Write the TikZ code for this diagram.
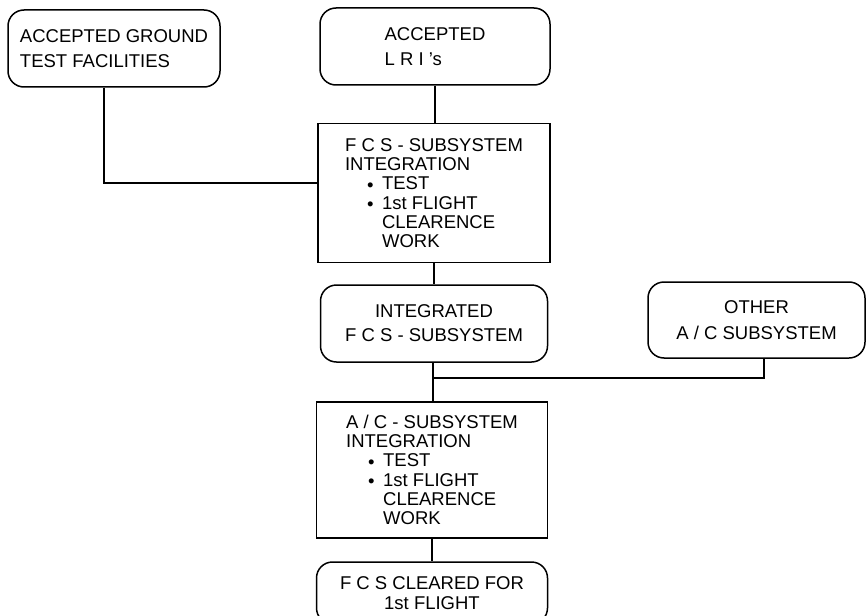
\documentclass[tikz,border=0pt]{standalone}
\usepackage{fontspec}
\setmainfont{Liberation Sans}
\begin{document}
\begin{tikzpicture}[x=1pt,y=-1pt,
  rbox/.style={draw,line width=1.5pt,rounded corners=16pt,inner sep=0pt},
  sqbox/.style={draw,line width=1.5pt,inner sep=0pt,align=left,font=\fontsize{18.5}{19.3}\selectfont},
  twoline/.style={font=\fontsize{18.5}{25.5}\selectfont},
  conn/.style={line width=1.5pt}]
\useasboundingbox (0,0) rectangle (866,615);
\clip (0,0) rectangle (866,615);
\newcommand{\bul}[1]{\hspace*{22pt}\makebox[15pt][l]{\raisebox{-1.5pt}{•}}#1}
\newcommand{\ind}[1]{\hspace*{37pt}#1}
% boxes
\node[rbox,twoline,align=left,minimum width=212pt,minimum height=77pt] (b1) at (114,48.5)
  {ACCEPTED GROUND\\TEST FACILITIES};
\node[rbox,twoline,align=left,minimum width=230pt,minimum height=77pt] (b2) at (435,46.5)
  {ACCEPTED\\L R I 's};
\node[sqbox,minimum width=232pt,minimum height=139pt] (b3) at (434,193)
  {F C S - SUBSYSTEM\\INTEGRATION\\\bul{TEST}\\\bul{1st FLIGHT}\\\ind{CLEARENCE}\\\ind{WORK}};
\node[rbox,align=center,minimum width=227pt,minimum height=77pt,font=\fontsize{18.5}{24}\selectfont] (b4) at (434,323.5)
  {INTEGRATED\\F C S - SUBSYSTEM};
\node[rbox,twoline,align=center,minimum width=217pt,minimum height=76pt] (b5) at (756.5,320)
  {OTHER\\A / C SUBSYSTEM};
\node[sqbox,minimum width=231pt,minimum height=136pt] (b6) at (432,470)
  {A / C - SUBSYSTEM\\INTEGRATION\\\bul{TEST}\\\bul{1st FLIGHT}\\\ind{CLEARENCE}\\\ind{WORK}};
\node[rbox,align=center,minimum width=231pt,minimum height=62pt,font=\fontsize{18.5}{20}\selectfont] (b7) at (432,593)
  {F C S CLEARED FOR\\1st FLIGHT};
\coordinate (j) at (433,378);
% connectors
\draw[conn] ([xshift=-10pt]b1.south) |- ([yshift=10pt]b3.west);
\draw[conn] (b2.south) -- (b2.south |- b3.north);
\draw[conn] (b3.south) -- (b3.south |- b4.north);
\draw[conn] (b4.south -| j) -- (j) -- (j |- b6.north);
\draw[conn] ([xshift=7.5pt]b5.south) |- (j);
\draw[conn] (b6.south) -- (b7.north);
\end{tikzpicture}
\end{document}
